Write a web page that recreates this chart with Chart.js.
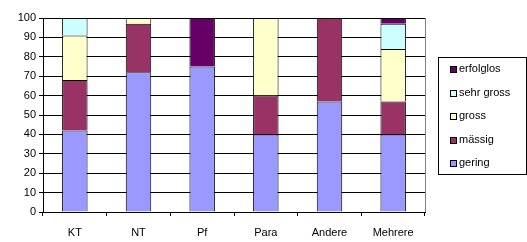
<!DOCTYPE html>
<html>
<head>
<meta charset="utf-8">
<script src="https://cdn.jsdelivr.net/npm/chart.js@4/dist/chart.umd.min.js"></script>
<style>
  html, body { margin: 0; padding: 0; background: #fff; }
  #wrap { width: 527px; height: 242px; position: relative; }
</style>
</head>
<body>
<div id="wrap"><canvas id="chart"></canvas></div>
<script>
// categories and series (percent, stacked to 100)
const categories = ['KT', 'NT', 'Pf', 'Para', 'Andere', 'Mehrere'];
const gering    = [42, 72, 75, 40, 57, 40];
const maessig   = [26, 25, null, 20, 43, 17];
const gross     = [23, 3, null, 40, null, 27];
const sehrGross = [9, null, null, null, null, 13];
const erfolglos = [null, null, 25, null, null, 3];
const yTicks = [0, 10, 20, 30, 40, 50, 60, 70, 80, 90, 100];

Chart.defaults.font.family = '"Liberation Sans", Arial, sans-serif';
Chart.defaults.font.size = 11;
Chart.defaults.color = '#000';

function ds(label, data, color) {
  return {
    label,
    data,
    backgroundColor: color,
    borderColor: '#000',
    // no bottom edge, so stacked segments share a single 1px line
    borderWidth: { top: 1, right: 1, bottom: 0, left: 1 },
    borderSkipped: false,
    categoryPercentage: 1,
    barPercentage: 0.4
  };
}

// plot border on the right side + boxed legend (Excel style)
const excelBits = {
  id: 'excelBits',
  afterDraw(chart) {
    const { ctx, chartArea: a } = chart;
    ctx.save();
    ctx.strokeStyle = '#808080';
    ctx.lineWidth = 1;
    ctx.beginPath();
    ctx.moveTo(Math.round(a.right) + 0.5, a.top);
    ctx.lineTo(Math.round(a.right) + 0.5, a.bottom);
    ctx.stroke();

    const sets = chart.data.datasets.slice().reverse();
    const lx = Math.round(a.right) + 13, step = 23.5;
    const h = 117, w = 88;
    const ly = Math.round((a.top + a.bottom) / 2 - h / 2);
    ctx.strokeStyle = '#000';
    ctx.strokeRect(lx + 0.5, ly + 0.5, w, h);
    ctx.font = '11px "Liberation Sans", Arial, sans-serif';
    ctx.textBaseline = 'middle';
    ctx.fillStyle = '#000';
    sets.forEach((d, i) => {
      const cy = ly + 12 + i * step;
      ctx.fillStyle = d.backgroundColor;
      ctx.fillRect(lx + 12, Math.round(cy - 3), 6, 6);
      ctx.strokeRect(lx + 12.5, Math.round(cy - 3) + 0.5, 6, 6);
      ctx.fillStyle = '#000';
      ctx.fillText(d.label, lx + 21, cy);
    });
    ctx.restore();
  }
};

new Chart(document.getElementById('chart'), {
  type: 'bar',
  data: {
    labels: categories,
    datasets: [
      ds('gering', gering, '#9999FF'),
      ds('mässig', maessig, '#993366'),
      ds('gross', gross, '#FFFFCC'),
      ds('sehr gross', sehrGross, '#CCFFFF'),
      ds('erfolglos', erfolglos, '#660066')
    ]
  },
  options: {
    responsive: true,
    maintainAspectRatio: false,
    animation: false,
    layout: { padding: { left: 0, right: 102, top: 18, bottom: 0 } },
    plugins: { legend: { display: false }, tooltip: { enabled: false } },
    scales: {
      x: {
        stacked: true,
        grid: { drawOnChartArea: false, drawTicks: true, tickLength: 4, color: '#000' },
        border: { color: '#000' },
        ticks: { padding: 10 },
        afterFit(s) { s.height = 30; }
      },
      y: {
        stacked: true,
        min: 0,
        max: 100,
        afterBuildTicks(s) { s.ticks = yTicks.map(v => ({ value: v })); },
        grid: { color: '#000', tickLength: 4 },
        border: { color: '#000' },
        ticks: { padding: 3 },
        afterFit(s) { s.width = 43; }
      }
    }
  },
  plugins: [excelBits]
});
</script>
</body>
</html>
